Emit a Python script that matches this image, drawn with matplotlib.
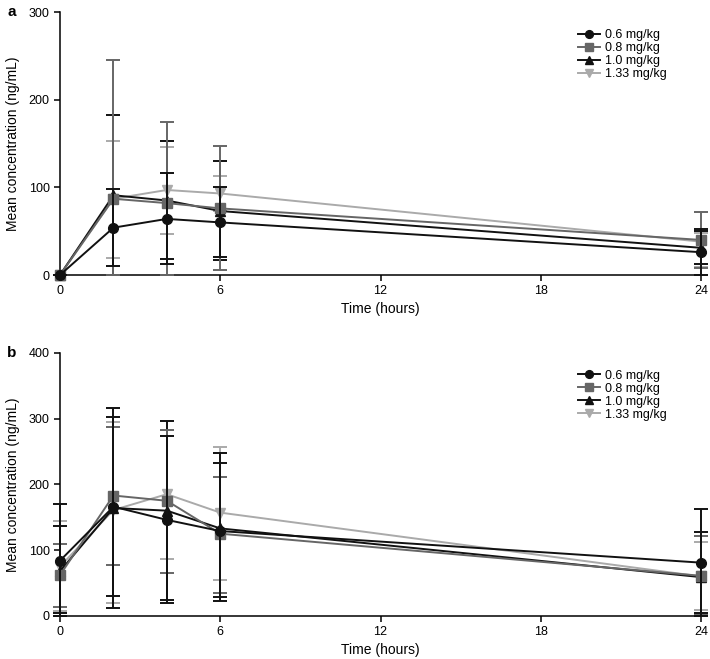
import matplotlib
matplotlib.use("Agg")
import matplotlib.pyplot as plt
import numpy as np

plt.rcParams['font.family'] = ['Liberation Sans', 'DejaVu Sans']

hours = [0, 2, 4, 6, 24]
doses = ["0.6 mg/kg", "0.8 mg/kg", "1.0 mg/kg", "1.33 mg/kg"]

# Panel a: mean, lower and upper error-bar ends (ng/mL)
a_mean_06 = [0, 54, 64, 60, 26]
a_low_06 = [0, 10, 12, 20, 0]
a_up_06 = [0, 98, 116, 100, 53]
a_mean_08 = [0, 87, 82, 76, 40]
a_low_08 = [0, 0, 0, 6, 8]
a_up_08 = [0, 245, 174, 147, 72]
a_mean_10 = [0, 91, 85, 73, 31]
a_low_10 = [0, 0, 18, 17, 12]
a_up_10 = [0, 182, 153, 130, 50]
a_mean_133 = [0, 87, 97, 93, 38]
a_low_133 = [0, 19, 47, 73, 9]
a_up_133 = [0, 153, 146, 113, 48]

# Panel b
b_mean_06 = [84, 166, 146, 129, 81]
b_low_06 = [0, 12, 19, 23, 0]
b_up_06 = [170, 316, 274, 233, 162]
b_mean_08 = [62, 183, 175, 125, 61]
b_low_08 = [14, 78, 66, 35, 1]
b_up_08 = [110, 287, 283, 211, 122]
b_mean_10 = [68, 164, 160, 133, 59]
b_low_10 = [4, 31, 24, 29, 4]
b_up_10 = [137, 303, 296, 248, 128]
b_mean_133 = [75, 161, 185, 157, 60]
b_low_133 = [8, 19, 87, 55, 9]
b_up_133 = [144, 294, 283, 256, 112]

x_ticks = [0, 6, 12, 18, 24]

styles = [
    dict(color="#111111", marker="o", z=5),
    dict(color="#666666", marker="s", z=4),
    dict(color="#111111", marker="^", z=3),
    dict(color="#aaaaaa", marker="v", z=2),
]

fig = plt.figure(figsize=(7.10, 6.59), dpi=100)
ax_a = fig.add_axes([0.0845, 0.5827, 0.903, 0.399])
ax_b = fig.add_axes([0.0845, 0.0653, 0.903, 0.3995])

panels = [
    (ax_a, [(a_mean_06, a_low_06, a_up_06), (a_mean_08, a_low_08, a_up_08),
            (a_mean_10, a_low_10, a_up_10), (a_mean_133, a_low_133, a_up_133)],
     300, [0, 100, 200, 300], "a"),
    (ax_b, [(b_mean_06, b_low_06, b_up_06), (b_mean_08, b_low_08, b_up_08),
            (b_mean_10, b_low_10, b_up_10), (b_mean_133, b_low_133, b_up_133)],
     400, [0, 100, 200, 300, 400], "b"),
]

for ax, series, ymax, yticks, lab in panels:
    handles = []
    for (m, lo, up), st, name in zip(series, styles, doses):
        m = np.array(m, float)
        yerr = np.vstack([m - np.array(lo, float), np.array(up, float) - m])
        cont = ax.errorbar(hours, m, yerr=yerr, color=st["color"], marker=st["marker"],
                           markersize=7, linewidth=1.4, elinewidth=1.4, capsize=5,
                           capthick=1.4, zorder=st["z"], clip_on=False, label=name)
        for c in cont.get_children():
            c.set_clip_on(False)
        handles.append(cont)
    ax.set_xlim(0, 24)
    ax.set_ylim(0, ymax)
    ax.set_xticks(x_ticks)
    ax.set_yticks(yticks)
    for s in ["top", "right"]:
        ax.spines[s].set_visible(False)
    for s in ["left", "bottom"]:
        ax.spines[s].set_linewidth(1.1)
    ax.tick_params(direction="out", length=4, width=1.1, labelsize=9)
    ax.set_xlabel("Time (hours)", fontsize=10, labelpad=3)
    ax.set_ylabel("Mean concentration (ng/mL)", fontsize=10, labelpad=6)
    leg_handles = [h.lines[0] for h in handles]
    ax.legend(leg_handles, doses, loc="upper left", bbox_to_anchor=(0.808, 0.935),
              frameon=False, fontsize=9, handlelength=1.75, handletextpad=0.4,
              labelspacing=0.08, borderpad=0, borderaxespad=0, markerscale=0.8)
    ax.text(-0.082, 1.0, lab, transform=ax.transAxes, fontsize=11, fontweight="bold",
            va="center", ha="left")

fig.savefig("out.png", dpi=100)
